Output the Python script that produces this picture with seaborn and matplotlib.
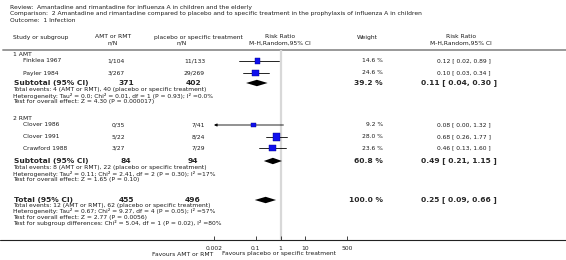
import numpy as np
import matplotlib
matplotlib.use("Agg")
import matplotlib.pyplot as plt
import seaborn as sns
import pandas as pd

# ---- data ----
studies = ["Finklea 1967", "Payler 1984", "Clover 1986", "Clover 1991", "Crawford 1988"]
events_exp = ["1/104", "3/267", "0/35", "5/22", "3/27"]
events_ctl = ["11/133", "29/269", "7/41", "8/24", "7/29"]
weights = [14.6, 24.6, 9.2, 28.0, 23.6]
rr = [0.12, 0.10, 0.08, 0.68, 0.46]
rr_lo = [0.02, 0.03, 0.00, 0.26, 0.13]
rr_hi = [0.89, 0.34, 1.32, 1.77, 1.60]

groups = ["1 AMT", "2 RMT"]
sub_n_exp = [371, 84]
sub_n_ctl = [402, 94]
sub_weight = [39.2, 60.8]
sub_rr = [0.11, 0.49]
sub_lo = [0.04, 0.21]
sub_hi = [0.30, 1.15]
sub_notes = [
    ["Total events: 4 (AMT or RMT), 40 (placebo or specific treatment)",
     "Heterogeneity: Tau\u00b2 = 0.0; Chi\u00b2 = 0.01, df = 1 (P = 0.93); I\u00b2 =0.0%",
     "Test for overall effect: Z = 4.30 (P = 0.000017)"],
    ["Total events: 8 (AMT or RMT), 22 (placebo or specific treatment)",
     "Heterogeneity: Tau\u00b2 = 0.11; Chi\u00b2 = 2.41, df = 2 (P = 0.30); I\u00b2 =17%",
     "Test for overall effect: Z = 1.65 (P = 0.10)"],
]

tot_n_exp, tot_n_ctl = 455, 496
tot_rr, tot_lo, tot_hi = 0.25, 0.09, 0.66
tot_notes = [
    "Total events: 12 (AMT or RMT), 62 (placebo or specific treatment)",
    "Heterogeneity: Tau\u00b2 = 0.67; Chi\u00b2 = 9.27, df = 4 (P = 0.05); I\u00b2 =57%",
    "Test for overall effect: Z = 2.77 (P = 0.0056)",
    "Test for subgroup differences: Chi\u00b2 = 5.04, df = 1 (P = 0.02), I\u00b2 =80%",
]

tick_vals = [0.002, 0.1, 1, 10, 500]
tick_labels = ["0.002", "0.1", "1", "10", "500"]

# ---- layout (pixel rows) ----
study_y = [61, 73, 125, 137, 148]
group_y = [54, 118]
sub_y = [83, 161]
tot_y = 200

sns.set_theme(style="white")
plt.rcParams["font.family"] = ["DejaVu Sans"]

fs = 4.35
fsb = 5.4
txt = "#1a1a1a"

fig = plt.figure(figsize=(5.66, 2.6), dpi=100)
ax_t = fig.add_axes([0, 0, 1, 1])
ax_t.set_xlim(0, 566)
ax_t.set_ylim(260, 0)
ax_t.axis("off")

# en-tete
ax_t.text(10, 7, "Review:  Amantadine and rimantadine for influenza A in children and the elderly", fontsize=fs, color=txt, va="center")
ax_t.text(10, 14, "Comparison:  2 Amantadine and rimantadine compared to placebo and to specific treatment in the prophylaxis of influenza A in children", fontsize=fs, color=txt, va="center")
ax_t.text(10, 21, "Outcome:  1 Infection", fontsize=fs, color=txt, va="center")

# colonnes
ax_t.text(13, 37, "Study or subgroup", fontsize=fs, color=txt, va="center")
ax_t.text(113, 37, "AMT or RMT", fontsize=fs, color=txt, va="center", ha="center")
ax_t.text(113, 43, "n/N", fontsize=fs, color=txt, va="center", ha="center")
ax_t.text(198, 37, "placebo or specific treatment", fontsize=fs, color=txt, va="center", ha="center")
ax_t.text(182, 43, "n/N", fontsize=fs, color=txt, va="center", ha="center")
ax_t.text(280, 37, "Risk Ratio", fontsize=fs, color=txt, va="center", ha="center")
ax_t.text(280, 43, "M-H,Random,95% CI", fontsize=fs, color=txt, va="center", ha="center")
ax_t.text(367, 37, "Weight", fontsize=fs, color=txt, va="center", ha="center")
ax_t.text(461, 37, "Risk Ratio", fontsize=fs, color=txt, va="center", ha="center")
ax_t.text(461, 43, "M-H,Random,95% CI", fontsize=fs, color=txt, va="center", ha="center")
ax_t.plot([3, 566], [49.5, 49.5], color="#999999", lw=1.4)
ax_t.plot([0, 566], [240, 240], color="#222222", lw=0.8)

# lignes des etudes
for i, name in enumerate(studies):
    y = study_y[i]
    ax_t.text(23, y, name, fontsize=fs, color=txt, va="center")
    ax_t.text(125, y, events_exp[i], fontsize=fs, color=txt, va="center", ha="right")
    ax_t.text(205, y, events_ctl[i], fontsize=fs, color=txt, va="center", ha="right")
    ax_t.text(383, y, f"{weights[i]:.1f} %", fontsize=fs, color=txt, va="center", ha="right")
    ax_t.text(464, y, f"{rr[i]:.2f} [ {rr_lo[i]:.2f}, {rr_hi[i]:.2f} ]", fontsize=fs, color=txt, va="center", ha="center")

# sous-groupes
for g in range(2):
    ax_t.text(13, group_y[g], groups[g], fontsize=fs, color=txt, va="center")
    y = sub_y[g]
    ax_t.text(14, y, "Subtotal (95% CI)", fontsize=fsb, weight="bold", va="center")
    ax_t.text(126, y, str(sub_n_exp[g]), fontsize=fsb, weight="bold", va="center", ha="center")
    ax_t.text(193, y, str(sub_n_ctl[g]), fontsize=fsb, weight="bold", va="center", ha="center")
    ax_t.text(383, y, f"{sub_weight[g]:.1f} %", fontsize=fsb, weight="bold", va="center", ha="right")
    ax_t.text(459, y, f"{sub_rr[g]:.2f} [ {sub_lo[g]:.2f}, {sub_hi[g]:.2f} ]", fontsize=fsb, weight="bold", va="center", ha="center")
    for k, line in enumerate(sub_notes[g]):
        ax_t.text(13, y + 7 + 6 * k, line, fontsize=fs, color=txt, va="center")

ax_t.text(14, tot_y, "Total (95% CI)", fontsize=fsb, weight="bold", va="center")
ax_t.text(126, tot_y, str(tot_n_exp), fontsize=fsb, weight="bold", va="center", ha="center")
ax_t.text(193, tot_y, str(tot_n_ctl), fontsize=fsb, weight="bold", va="center", ha="center")
ax_t.text(383, tot_y, "100.0 %", fontsize=fsb, weight="bold", va="center", ha="right")
ax_t.text(459, tot_y, f"{tot_rr:.2f} [ {tot_lo:.2f}, {tot_hi:.2f} ]", fontsize=fsb, weight="bold", va="center", ha="center")
for k, line in enumerate(tot_notes):
    ax_t.text(13, tot_y + 6 + 5.5 * k, line, fontsize=fs, color=txt, va="center")

ax_t.text(213, 254, "Favours AMT or RMT", fontsize=fs, color=txt, va="center", ha="right")
ax_t.text(222, 254, "Favours placebo or specific treatment", fontsize=fs, color=txt, va="center", ha="left")

# ---- forest plot ----
x0, x1 = 214, 347
ax = fig.add_axes([x0 / 566, (260 - 240) / 260, (x1 - x0) / 566, (240 - 49.5) / 260])
ax.patch.set_alpha(0)
ax.set_xscale("log")
ax.set_xlim(0.002, 500)
ax.set_ylim(240, 49.5)
for s in ["top", "left", "right", "bottom"]:
    ax.spines[s].set_visible(False)
ax.set_yticks([])
ax.set_xticks(tick_vals)
ax.set_xticklabels(tick_labels)
ax.minorticks_off()
ax.tick_params(axis="x", direction="in", length=3, width=0.6, labelsize=fs, pad=4.5, colors="#222222", bottom=True)
ax.axvline(1, color="#d8d8d8", lw=1.6, zorder=0)

xmin = 0.002
for i in range(len(studies)):
    y = study_y[i]
    lo = rr_lo[i]
    if lo < xmin:
        ax.annotate("", xy=(xmin, y), xytext=(rr_hi[i], y),
                    arrowprops=dict(arrowstyle="-|>", lw=0.6, color="black", mutation_scale=4, shrinkA=0, shrinkB=0))
    else:
        ax.plot([lo, rr_hi[i]], [y, y], color="black", lw=0.6)

df = pd.DataFrame({"rr": rr, "y": study_y, "w": weights})
sns.scatterplot(data=df, x="rr", y="y", size="w", sizes=(9, 28), size_norm=(9.2, 28.0),
                marker="s", color="#1010ee", edgecolor="#000088", linewidth=0.3, legend=False, ax=ax, zorder=3)
ax.set_xlabel("")
ax.set_ylabel("")

def diamond(axe, lo, mid, hi, y, h=3.2):
    axe.fill([lo, mid, hi, mid], [y, y - h, y, y + h], color="black", lw=0)

for g in range(2):
    diamond(ax, sub_lo[g], sub_rr[g], sub_hi[g], sub_y[g])
diamond(ax, tot_lo, tot_rr, tot_hi, tot_y)

fig.savefig("out.png", dpi=100)
